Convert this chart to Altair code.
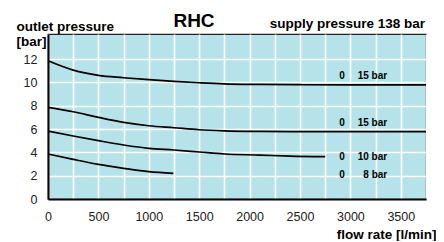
import altair as alt
import pandas as pd

# ---- data ----
flow_15a = [0, 250, 500, 750, 1000, 1250, 1500, 1750, 2100, 2500, 3000, 3750]
p_15a = [11.85, 11.05, 10.6, 10.4, 10.23, 10.08, 9.97, 9.88, 9.83, 9.8, 9.78, 9.78]

flow_15b = [0, 250, 500, 750, 1000, 1250, 1500, 1750, 2100, 2500, 3000, 3750]
p_15b = [7.86, 7.48, 7.0, 6.57, 6.28, 6.11, 5.94, 5.85, 5.8, 5.78, 5.77, 5.77]

flow_10 = [0, 250, 500, 750, 1000, 1250, 1500, 1750, 2100, 2400, 2750]
p_10 = [5.83, 5.4, 5.0, 4.63, 4.34, 4.2, 4.03, 3.86, 3.77, 3.68, 3.63]

flow_8 = [0, 250, 500, 750, 1000, 1243]
p_8 = [3.86, 3.4, 2.97, 2.63, 2.34, 2.2]

label_zero = ["0", "0", "0", "0"]
label_range = ["15 bar", "15 bar", "10 bar", "8 bar"]
label_y = [10.54, 6.51, 3.62, 2.06]
label_zero_x = [2917, 2917, 2917, 2917]
label_range_x = [3365, 3365, 3365, 3365]

x_ticks = list(range(0, 3751, 250))
y_ticks = [0, 2, 4, 6, 8, 10, 12]

FONT = "Liberation Sans"

rows = []
for name, fl, pr in [("a", flow_15a, p_15a), ("b", flow_15b, p_15b),
                     ("c", flow_10, p_10), ("d", flow_8, p_8)]:
    for f, p in zip(fl, pr):
        rows.append({"curve": name, "flow": f, "p": p})
df = pd.DataFrame(rows)

zero_df = pd.DataFrame({"t": label_zero, "p": label_y, "flow": label_zero_x})
range_df = pd.DataFrame({"t": label_range, "p": label_y, "flow": label_range_x})

xscale = alt.Scale(domain=[0, 3750], nice=False, zero=False)
yscale = alt.Scale(domain=[0, 14.15], nice=False)

xaxis = alt.Axis(values=x_ticks, labelExpr="datum.value % 500 === 0 ? datum.label : ''",
                 format="d", grid=True, gridColor="white", gridWidth=1.6, gridOpacity=1,
                 ticks=False, domainColor="black", domainWidth=2,
                 labelFont=FONT, labelFontSize=12.5, labelColor="#222", labelPadding=11,
                 labelFlush=False, labelOverlap=False,
                 title="flow rate [l/min]", titleFont=FONT, titleFontSize=13.5,
                 titleFontWeight="bold", titleColor="black", titleAlign="right",
                 titleAnchor="start", titleX=388, titleY=39, titleBaseline="alphabetic")

yaxis = alt.Axis(values=y_ticks, grid=True, gridColor="white", gridWidth=1.6, gridOpacity=1,
                 ticks=False, domainColor="black", domainWidth=2,
                 labelFont=FONT, labelFontSize=12.5, labelColor="#222", labelPadding=11,
                 labelFlush=False, labelOverlap=False,
                 title=["outlet pressure", "[bar]"], titleFont=FONT, titleFontSize=13.5,
                 titleFontWeight="bold", titleColor="black", titleAngle=0,
                 titleAlign="left", titleAnchor="start", titleBaseline="alphabetic",
                 titleX=-32, titleY=-4, titleLineHeight=15)

X = alt.X("flow:Q", scale=xscale, axis=xaxis)
Y = alt.Y("p:Q", scale=yscale, axis=yaxis)

lines = alt.Chart(df).mark_line(color="black", strokeWidth=1.7, interpolate="monotone").encode(
    x=X, y=Y, detail="curve:N")

zero_text = alt.Chart(zero_df).mark_text(font=FONT, fontSize=10, fontWeight="bold",
                                         color="black", align="center", baseline="middle").encode(
    x=X, y=Y, text="t:N")

range_text = alt.Chart(range_df).mark_text(font=FONT, fontSize=10, fontWeight="bold",
                                           color="black", align="right", baseline="middle").encode(
    x=X, y=Y, text="t:N")

title_df = pd.DataFrame({"t": ["RHC"]})
supply_df = pd.DataFrame({"t": ["supply pressure 138 bar"]})

rhc = alt.Chart(title_df).mark_text(font=FONT, fontSize=19, fontWeight="bold", color="black",
                                    align="center", baseline="alphabetic").encode(
    x=alt.value(146), y=alt.value(-7), text="t:N")

supply = alt.Chart(supply_df).mark_text(font=FONT, fontSize=13.5, fontWeight="bold", color="black",
                                        align="right", baseline="alphabetic").encode(
    x=alt.value(377), y=alt.value(-6), text="t:N")

chart = alt.layer(lines, zero_text, range_text, rhc, supply).properties(
    width=378, height=165,
    background="white",
    autosize=alt.AutoSizeParams(type="none"),
    padding={"left": 40, "top": 26, "right": 10, "bottom": 42},
).configure_view(fill="#b5e3e9", stroke="#222", strokeWidth=1.2)

chart.save("out.html", embed_options={"renderer": "svg", "actions": False})
